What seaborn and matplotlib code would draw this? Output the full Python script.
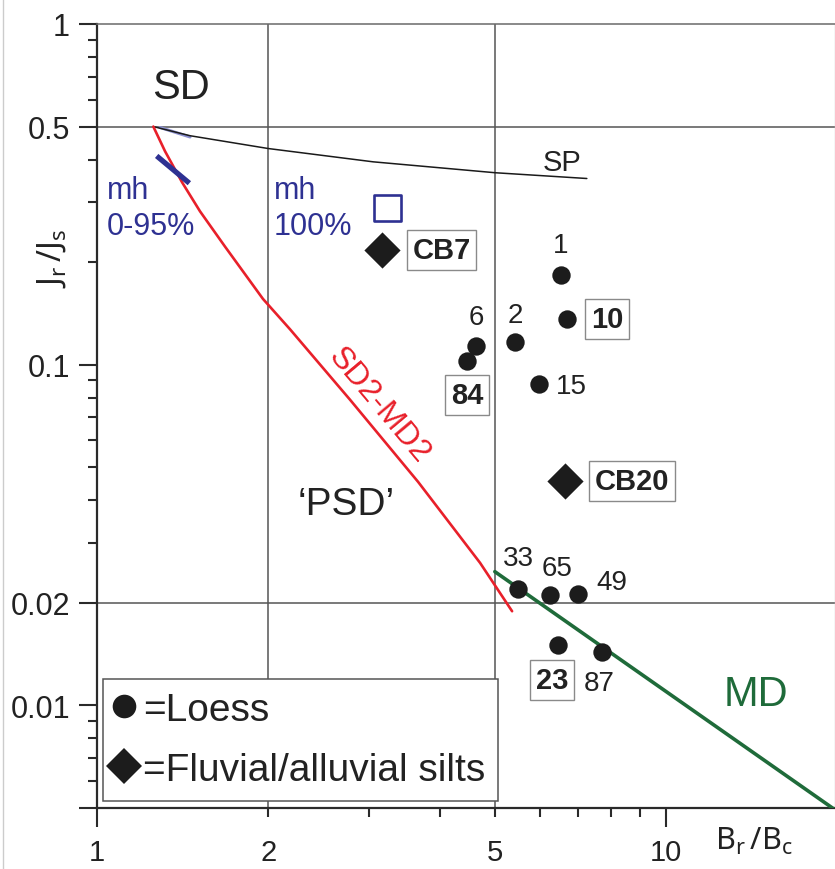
import matplotlib
matplotlib.use("Agg")
import matplotlib.pyplot as plt
import seaborn as sns
import pandas as pd
from matplotlib.lines import Line2D
from matplotlib.ticker import FixedLocator, FixedFormatter

# ---------------- data ----------------
loess_labels = ['1', '10', '6', '84', '2', '15', '33', '65', '49', '23', '87']
loess_br_bc = [6.53, 6.69, 4.64, 4.47, 5.43, 5.97, 5.50, 6.25, 7.01, 6.45, 7.71]
loess_jr_js = [0.183, 0.1365, 0.1132, 0.1027, 0.1163, 0.0877, 0.0220, 0.0211, 0.0213, 0.0150, 0.01435]
loess_boxed = [False, True, False, True, False, False, False, False, False, True, False]

fluvial_labels = ['CB7', 'CB20']
fluvial_br_bc = [3.165, 6.64]
fluvial_jr_js = [0.217, 0.0456]

mh100_br_bc = [3.24]
mh100_jr_js = [0.289]

sp_br_bc = [1.256, 1.457, 2.0, 3.056, 5.006, 7.255]
sp_jr_js = [0.500, 0.470, 0.431, 0.394, 0.366, 0.352]

sdmd_br_bc = [1.256, 1.317, 1.411, 1.517, 1.679, 1.957, 2.184, 2.784, 3.666, 4.711, 5.362]
sdmd_jr_js = [0.500, 0.423, 0.343, 0.282, 0.222, 0.156, 0.127, 0.0789, 0.0453, 0.0262, 0.0189]

md_br_bc = [5.0, 19.8]
md_jr_js = [0.0247, 0.00494]

mh_br_bc = [1.273, 1.453]
mh_jr_js = [0.410, 0.341]

mh_sp_br_bc = [1.29, 1.457]
mh_sp_jr_js = [0.497, 0.466]

x_major = [1, 10]
x_major_labels = ['1', '10']
x_minor = [2, 3, 4, 5, 6, 7, 8, 9]
x_minor_labels = ['2', '', '', '5', '', '', '', '']
y_major = [0.005, 0.01, 0.02, 0.1, 0.5, 1]
y_major_labels = ['', '0.01', '0.02', '0.1', '0.5', '1']
y_minor = [0.006, 0.007, 0.008, 0.009, 0.03, 0.04, 0.05, 0.06, 0.07, 0.08, 0.09,
           0.2, 0.3, 0.4, 0.6, 0.7, 0.8, 0.9]

# label offsets (points) relative to their marker
label_offsets = {'1': (0, 22), '10': (29, 0), '6': (0, 21.5), '84': (0, -24.5),
                 '2': (0, 20), '15': (23.5, -1), '33': (0, 22), '65': (5, 19.5),
                 '49': (24.5, 8), '23': (-4, -25), '87': (-2, -22),
                 'CB7': (43, 0), 'CB20': (48.5, 0)}

# ---------------- style ----------------
sns.set_style("ticks")
plt.rcParams['font.family'] = ['Liberation Sans', 'DejaVu Sans']

BLUE = '#2e3192'
RED = '#e8202a'
GREEN = '#1f6b3a'
DARK = '#1c1c1c'
AXC = '#2a2a2a'

fig = plt.figure(figsize=(8.35, 8.7), dpi=100)
ax = fig.add_axes([97 / 835, 61 / 870, 738 / 835, 784 / 870])
ax.set_xscale('log')
ax.set_yscale('log')
ax.set_xlim(1, 19.8)
ax.set_ylim(0.005, 1.0)

# reference grid lines
for xv in (2, 5):
    ax.axvline(xv, color='#555555', lw=1.1, zorder=1)
for yv in (0.5, 0.02):
    ax.axhline(yv, color='#555555', lw=1.1, zorder=1)

# curves
sns.lineplot(x=mh_sp_br_bc, y=mh_sp_jr_js, sort=False, estimator=None, color='#8a8fd0', lw=2.2, ax=ax, zorder=2)
sns.lineplot(x=sp_br_bc, y=sp_jr_js, sort=False, estimator=None, color='#1a1a1a', lw=1.1, ax=ax, zorder=3)
sns.lineplot(x=sdmd_br_bc, y=sdmd_jr_js, sort=False, estimator=None, color=RED, lw=1.9, ax=ax, zorder=3)
sns.lineplot(x=md_br_bc, y=md_jr_js, sort=False, estimator=None, color=GREEN, lw=2.6, ax=ax, zorder=3)
sns.lineplot(x=mh_br_bc, y=mh_jr_js, sort=False, estimator=None, color=BLUE, lw=3.8, ax=ax, zorder=4,
             solid_capstyle='butt')

# points
loess_df = pd.DataFrame({'Br/Bc': loess_br_bc, 'Jr/Js': loess_jr_js, 'label': loess_labels})
fluv_df = pd.DataFrame({'Br/Bc': fluvial_br_bc, 'Jr/Js': fluvial_jr_js, 'label': fluvial_labels})
mh_df = pd.DataFrame({'Br/Bc': mh100_br_bc, 'Jr/Js': mh100_jr_js})

sns.scatterplot(data=loess_df, x='Br/Bc', y='Jr/Js', marker='o', s=175, color=DARK,
                linewidth=0, legend=False, ax=ax, zorder=5)
sns.scatterplot(data=fluv_df, x='Br/Bc', y='Jr/Js', marker='D', s=340, color=DARK,
                linewidth=0, legend=False, ax=ax, zorder=5)
sns.scatterplot(data=mh_df, x='Br/Bc', y='Jr/Js', marker='s', s=360, facecolor='none',
                edgecolor=BLUE, linewidth=1.9, legend=False, ax=ax, zorder=5)

box = dict(boxstyle='square,pad=0.2', fc='white', ec='#8a8a8a', lw=1.0)
for lab, xv, yv, bx in zip(loess_labels, loess_br_bc, loess_jr_js, loess_boxed):
    ax.annotate(lab, (xv, yv), xytext=label_offsets[lab], textcoords='offset points',
                ha='center', va='center', fontsize=21 if bx else 20,
                fontweight='bold' if bx else 'normal', color='#222222',
                bbox=box if bx else None, zorder=6)
for lab, xv, yv in zip(fluvial_labels, fluvial_br_bc, fluvial_jr_js):
    ax.annotate(lab, (xv, yv), xytext=label_offsets[lab], textcoords='offset points',
                ha='center', va='center', fontsize=21, fontweight='bold', color='#222222',
                bbox=box, zorder=6)

# region / curve annotations
ax.text(1.405, 0.655, 'SD', fontsize=30, ha='center', va='center', color='#222222')
ax.text(2.737, 0.0390, '\u2018PSD\u2019', fontsize=28, ha='center', va='center', color='#222222')
ax.text(6.556, 0.394, 'SP', fontsize=21, ha='center', va='center', color='#222222')
ax.text(14.37, 0.0108, 'MD', fontsize=30, ha='center', va='center', color=GREEN)
ax.text(3.131, 0.0763, 'SD2-MD2', fontsize=23, ha='center', va='center', color=RED,
        rotation=-50, rotation_mode='anchor')
# multi-line text: 'baseline' anchors the last line
ax.text(1.041, 0.2412, 'mh\n0-95%', fontsize=22, ha='left', va='baseline', color=BLUE, linespacing=1.3)
ax.text(2.047, 0.2412, 'mh\n100%', fontsize=22, ha='left', va='baseline', color=BLUE, linespacing=1.3)

# axis labels
ax.text(0.8374, -0.052, r'$\mathregular{B_r\,/B_c}$', transform=ax.transAxes, fontsize=22,
        ha='left', va='baseline', family=['Noto Sans', 'DejaVu Sans'], color='#222222', clip_on=False)
ax.text(-0.050, 0.6645, r'$\mathregular{J_r\,/J_s}$', transform=ax.transAxes, fontsize=23,
        ha='left', va='baseline', rotation=90, rotation_mode='anchor',
        family=['Noto Sans', 'DejaVu Sans'], color='#222222', clip_on=False)
ax.set_xlabel('')
ax.set_ylabel('')

# ticks
ax.xaxis.set_major_locator(FixedLocator(x_major))
ax.xaxis.set_major_formatter(FixedFormatter(x_major_labels))
ax.xaxis.set_minor_locator(FixedLocator(x_minor))
ax.xaxis.set_minor_formatter(FixedFormatter(x_minor_labels))
ax.yaxis.set_major_locator(FixedLocator(y_major))
ax.yaxis.set_major_formatter(FixedFormatter(y_major_labels))
ax.yaxis.set_minor_locator(FixedLocator(y_minor))
ax.yaxis.set_minor_formatter(FixedFormatter([''] * len(y_minor)))

ax.tick_params(axis='x', which='major', direction='out', length=13.7, width=1.5, color=AXC,
               labelsize=21, pad=8.0, labelcolor='#222222')
ax.tick_params(axis='x', which='minor', direction='out', length=6.5, width=1.5, color=AXC,
               labelsize=21, pad=15.2, labelcolor='#222222')
ax.tick_params(axis='y', which='major', direction='out', length=13.0, width=1.5, color=AXC,
               labelsize=22, pad=6.5, labelcolor='#222222')
ax.tick_params(axis='y', which='minor', direction='out', length=6.3, width=1.5, color=AXC)

for side in ('left', 'bottom'):
    ax.spines[side].set_color(AXC)
    ax.spines[side].set_linewidth(1.6)
ax.spines['top'].set_color('#6a6a6a')
ax.spines['top'].set_linewidth(1.1)
ax.spines['right'].set_color('#cfcfcf')
ax.spines['right'].set_linewidth(1.0)

# legend
handles = [Line2D([], [], marker='o', ls='', color=DARK, markersize=17, markeredgewidth=0),
           Line2D([], [], marker='D', ls='', color=DARK, markersize=18.5, markeredgewidth=0)]
leg = ax.legend(handles, ['=Loess', '=Fluvial/alluvial silts'], loc='lower left',
                bbox_to_anchor=(0.008, 0.009), borderaxespad=0, fontsize=28,
                handlelength=0.45, handletextpad=0.25, labelspacing=0.62, borderpad=0.33,
                frameon=True, fancybox=False, framealpha=1, edgecolor='#555555')
leg.get_frame().set_linewidth(1.1)
for t in leg.get_texts():
    t.set_color('#222222')
leg.set_zorder(7)

# faint frame line of the original image on the left
fig.add_artist(Line2D([3 / 835, 3 / 835], [0, 1], color='#cccccc', lw=1.0))

fig.savefig('out.png', dpi=100)
